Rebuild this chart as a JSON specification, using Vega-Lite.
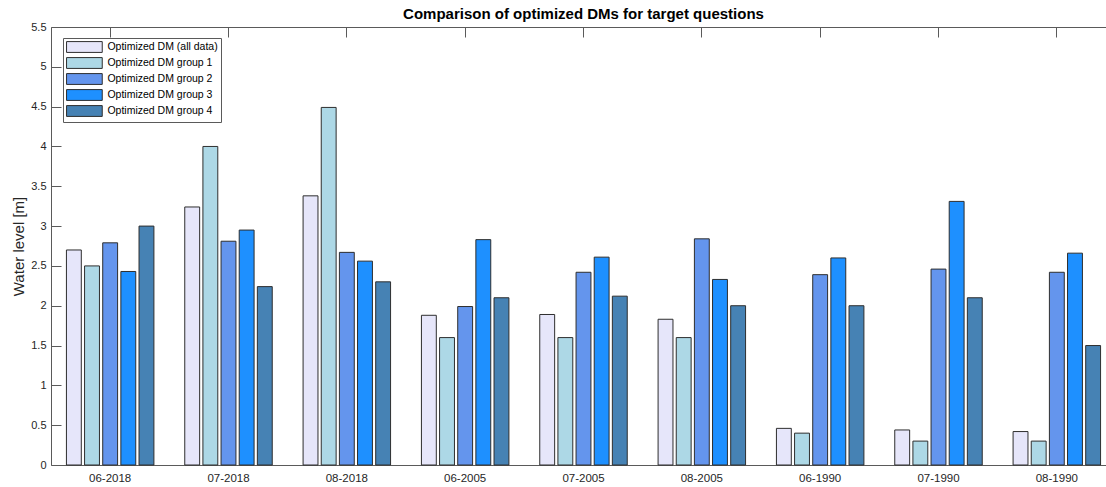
{
  "$schema": "https://vega.github.io/schema/vega-lite/v6.json",
  "autosize": {"type": "none"},
  "padding": {"left": 51, "top": 27, "right": 0, "bottom": 22},
  "width": 1065,
  "height": 438,
  "background": "white",
  "config": {
    "font": "Liberation Sans",
    "view": {"stroke": "#5a5a5a", "strokeWidth": 1},
    "axis": {"grid": false, "domain": false, "labelColor": "#262626", "tickColor": "#5a5a5a", "zindex": 1}
  },
  "title": {"text": "Comparison of optimized DMs for target questions", "fontSize": 15, "fontWeight": "bold", "color": "#000000", "anchor": "middle", "offset": -1},
  "data": {"values": [
    {"period": "06-2018", "series": "Optimized DM (all data)", "value": 2.70},
    {"period": "06-2018", "series": "Optimized DM group 1", "value": 2.50},
    {"period": "06-2018", "series": "Optimized DM group 2", "value": 2.79},
    {"period": "06-2018", "series": "Optimized DM group 3", "value": 2.43},
    {"period": "06-2018", "series": "Optimized DM group 4", "value": 3.00},
    {"period": "07-2018", "series": "Optimized DM (all data)", "value": 3.24},
    {"period": "07-2018", "series": "Optimized DM group 1", "value": 4.00},
    {"period": "07-2018", "series": "Optimized DM group 2", "value": 2.81},
    {"period": "07-2018", "series": "Optimized DM group 3", "value": 2.95},
    {"period": "07-2018", "series": "Optimized DM group 4", "value": 2.24},
    {"period": "08-2018", "series": "Optimized DM (all data)", "value": 3.38},
    {"period": "08-2018", "series": "Optimized DM group 1", "value": 4.49},
    {"period": "08-2018", "series": "Optimized DM group 2", "value": 2.67},
    {"period": "08-2018", "series": "Optimized DM group 3", "value": 2.56},
    {"period": "08-2018", "series": "Optimized DM group 4", "value": 2.30},
    {"period": "06-2005", "series": "Optimized DM (all data)", "value": 1.88},
    {"period": "06-2005", "series": "Optimized DM group 1", "value": 1.60},
    {"period": "06-2005", "series": "Optimized DM group 2", "value": 1.99},
    {"period": "06-2005", "series": "Optimized DM group 3", "value": 2.83},
    {"period": "06-2005", "series": "Optimized DM group 4", "value": 2.10},
    {"period": "07-2005", "series": "Optimized DM (all data)", "value": 1.89},
    {"period": "07-2005", "series": "Optimized DM group 1", "value": 1.60},
    {"period": "07-2005", "series": "Optimized DM group 2", "value": 2.42},
    {"period": "07-2005", "series": "Optimized DM group 3", "value": 2.61},
    {"period": "07-2005", "series": "Optimized DM group 4", "value": 2.12},
    {"period": "08-2005", "series": "Optimized DM (all data)", "value": 1.83},
    {"period": "08-2005", "series": "Optimized DM group 1", "value": 1.60},
    {"period": "08-2005", "series": "Optimized DM group 2", "value": 2.84},
    {"period": "08-2005", "series": "Optimized DM group 3", "value": 2.33},
    {"period": "08-2005", "series": "Optimized DM group 4", "value": 2.00},
    {"period": "06-1990", "series": "Optimized DM (all data)", "value": 0.46},
    {"period": "06-1990", "series": "Optimized DM group 1", "value": 0.40},
    {"period": "06-1990", "series": "Optimized DM group 2", "value": 2.39},
    {"period": "06-1990", "series": "Optimized DM group 3", "value": 2.60},
    {"period": "06-1990", "series": "Optimized DM group 4", "value": 2.00},
    {"period": "07-1990", "series": "Optimized DM (all data)", "value": 0.44},
    {"period": "07-1990", "series": "Optimized DM group 1", "value": 0.30},
    {"period": "07-1990", "series": "Optimized DM group 2", "value": 2.46},
    {"period": "07-1990", "series": "Optimized DM group 3", "value": 3.31},
    {"period": "07-1990", "series": "Optimized DM group 4", "value": 2.10},
    {"period": "08-1990", "series": "Optimized DM (all data)", "value": 0.42},
    {"period": "08-1990", "series": "Optimized DM group 1", "value": 0.30},
    {"period": "08-1990", "series": "Optimized DM group 2", "value": 2.42},
    {"period": "08-1990", "series": "Optimized DM group 3", "value": 2.66},
    {"period": "08-1990", "series": "Optimized DM group 4", "value": 1.50}
  ]},
  "layer": [
    {
      "mark": {"type": "bar", "stroke": "#2e2e2e", "strokeWidth": 1},
      "encoding": {
        "x": {"field": "period", "type": "nominal", "sort": null,
              "scale": {"paddingInner": 0, "paddingOuter": 0},
              "axis": {"title": null, "labelAngle": 0, "labelFontSize": 11.5, "labelPadding": 17, "tickSize": -10, "orient": "bottom"}},
        "xOffset": {"field": "series", "type": "nominal", "sort": null,
                    "scale": {"paddingInner": 0.18, "paddingOuter": 0.85}},
        "y": {"field": "value", "type": "quantitative",
              "scale": {"domain": [0, 5.5], "nice": false},
              "axis": {"title": "Water level [m]", "titleFontSize": 15, "titleFontWeight": "normal", "titleColor": "#262626",
                       "titleX": -25, "titleY": 219, "titleBaseline": "bottom", "titleAlign": "center", "titleAngle": -90,
                       "values": [0, 0.5, 1, 1.5, 2, 2.5, 3, 3.5, 4, 4.5, 5, 5.5],
                       "labelExpr": "'' + datum.value", "labelFontSize": 11, "labelPadding": 15, "tickSize": -10, "orient": "left"}},
        "color": {"field": "series", "type": "nominal",
                  "scale": {"domain": ["Optimized DM (all data)", "Optimized DM group 1", "Optimized DM group 2", "Optimized DM group 3", "Optimized DM group 4"],
                            "range": ["#E6E6FA", "#ADD8E6", "#6495ED", "#1E90FF", "#4682B4"]},
                  "legend": {"title": null, "orient": "none", "legendX": 12, "legendY": 11,
                             "direction": "vertical",
                             "symbolType": "M-3.3,-1H3.3V1H-3.3Z", "symbolSize": 117, "symbolOffset": 12.4,
                             "symbolStrokeColor": "#2e2e2e", "symbolStrokeWidth": 1,
                             "labelFontSize": 10.5, "labelColor": "#000000", "labelOffset": 17, "rowPadding": 0,
                             "padding": 3, "strokeColor": "#5a5a5a", "fillColor": "white", "cornerRadius": 0}}
      }
    },
    {
      "mark": {"type": "bar", "opacity": 0},
      "encoding": {
        "x": {"field": "period", "type": "nominal", "sort": null,
              "axis": {"title": null, "labels": false, "tickSize": -10, "orient": "top"}},
        "xOffset": {"field": "series", "type": "nominal", "sort": null},
        "y": {"field": "value", "type": "quantitative",
              "axis": {"title": null, "labels": false, "tickSize": -10, "orient": "right",
                       "values": [0, 0.5, 1, 1.5, 2, 2.5, 3, 3.5, 4, 4.5, 5, 5.5]}}
      }
    }
  ],
  "resolve": {"axis": {"x": "independent", "y": "independent"}}
}
